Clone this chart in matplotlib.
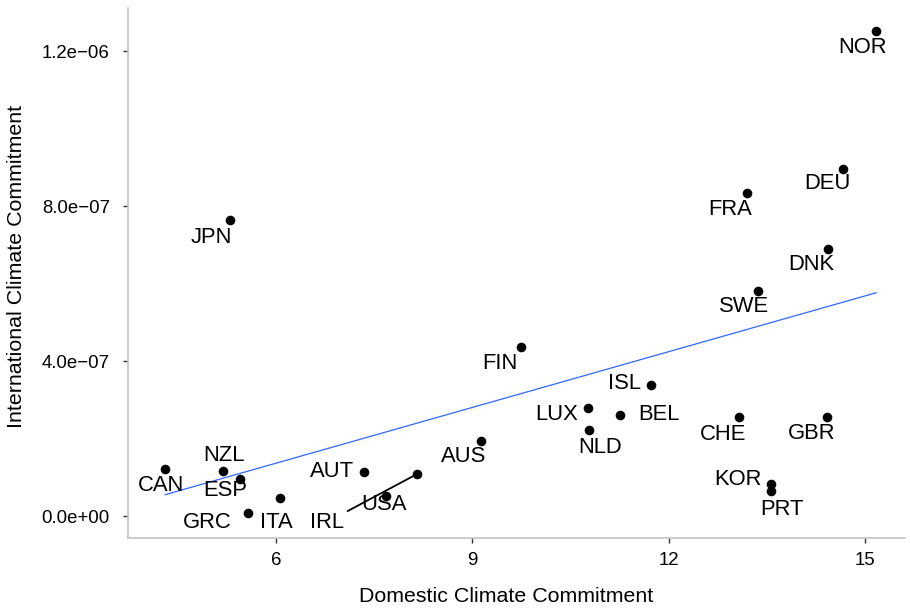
import numpy as np
import matplotlib
matplotlib.use("Agg")
import matplotlib.pyplot as plt
from matplotlib.ticker import FuncFormatter

plt.rcParams['font.family'] = ['Liberation Sans', 'DejaVu Sans']

countries = ["NOR", "DEU", "FRA", "DNK", "SWE", "JPN", "FIN", "ISL", "LUX", "NLD",
             "BEL", "CHE", "GBR", "KOR", "PRT", "AUS", "AUT", "USA", "IRL", "CAN",
             "NZL", "ESP", "GRC", "ITA"]
domestic = [15.17, 14.66, 13.20, 14.43, 13.36, 5.30, 9.74, 11.73, 10.77, 10.78,
            11.26, 13.07, 14.42, 13.57, 13.57, 9.13, 7.35, 7.68, 8.15, 4.31,
            5.20, 5.46, 5.58, 6.07]
international = [12.52e-7, 8.96e-7, 8.35e-7, 6.90e-7, 5.81e-7, 7.64e-7, 4.37e-7, 3.38e-7, 2.79e-7, 2.22e-7,
                 2.62e-7, 2.55e-7, 2.57e-7, 0.82e-7, 0.65e-7, 1.94e-7, 1.13e-7, 0.52e-7, 1.08e-7, 1.22e-7,
                 1.16e-7, 0.96e-7, 0.08e-7, 0.48e-7]

# label offsets (pixels, screen: +x right, +y down)
label_dx = [-14, -15, -17, -16, -14, -19, -21, -26, -31, 11,
            39, -16, -15, -33, 11, -17, -32, -2, -90, -4,
            1, -15, -41, -4]
label_dy = [17, 15, 17, 16, 16, 17, 17, -2, 6, 17,
            0, 17, 17, -5, 19, 16, -1, 8, 48, 17,
            -16, 12, 9, 25]

x_ticks = [6, 9, 12, 15]
y_ticks = [0.0, 4.0e-7, 8.0e-7, 1.2e-6]

W, H = 910, 608
fig = plt.figure(figsize=(W / 100, H / 100), dpi=100)
left, right, top, bottom = 128, 905, 8, 537.5
ax = fig.add_axes([left / W, (H - bottom) / H, (right - left) / W, (bottom - top) / H])

x = np.array(domestic)
y = np.array(international)

# linear fit
coef = np.polyfit(x, y, 1)
xs = np.linspace(x.min(), x.max(), 100)
ax.plot(xs, np.polyval(coef, xs), color='#3366FF', lw=0.9, zorder=2)

ax.scatter(x, y, s=48, color='black', zorder=3, linewidths=0)

px2pt = 72 / 100
for name, xi, yi, dx, dy in zip(countries, x, y, label_dx, label_dy):
    if name == "IRL":
        ax.annotate(name, xy=(xi, yi), xytext=(dx * px2pt, -dy * px2pt),
                    textcoords='offset points', ha='center', va='center',
                    fontsize=15.8, color='black',
                    arrowprops=dict(arrowstyle='-', color='black', lw=1.3,
                                    shrinkA=1, shrinkB=0))
    else:
        ax.annotate(name, xy=(xi, yi), xytext=(dx * px2pt, -dy * px2pt),
                    textcoords='offset points', ha='center', va='center',
                    fontsize=15.8, color='black')

ax.set_xlim(3.743, 15.61)
ax.set_ylim(-0.55e-7, 13.11e-7)
ax.set_xticks(x_ticks)
ax.set_yticks(y_ticks)
ax.xaxis.set_major_formatter(FuncFormatter(lambda v, p: f"{v:g}"))
ax.yaxis.set_major_formatter(FuncFormatter(lambda v, p: f"{v:.1e}".replace('-', '\u2212')))

for s in ['top', 'right']:
    ax.spines[s].set_visible(False)
for s in ['left', 'bottom']:
    ax.spines[s].set_color('#c4c4c4')
    ax.spines[s].set_linewidth(1.2)

ax.tick_params(axis='both', length=3.5, width=1.0, color='#333333',
               labelsize=13.4, labelcolor='black')
ax.tick_params(axis='y', pad=9.5)
ax.tick_params(axis='x', pad=7)

ax.set_xlabel("Domestic Climate Commitment", fontsize=15.4)
ax.set_ylabel("International Climate Commitment", fontsize=15.4)

# title placement in figure pixels
inv = ax.transAxes.inverted()
def fig_px_to_axes(px, py):
    return inv.transform(fig.transFigure.transform((px / W, 1 - py / H)))
xl = fig_px_to_axes(506, 597)
yl = fig_px_to_axes(17, 266)
ax.xaxis.set_label_coords(xl[0], xl[1])
ax.xaxis.label.set_va('center')
ax.yaxis.set_label_coords(yl[0], yl[1])
ax.yaxis.label.set_va('center')

fig.savefig("out.png", dpi=100)
